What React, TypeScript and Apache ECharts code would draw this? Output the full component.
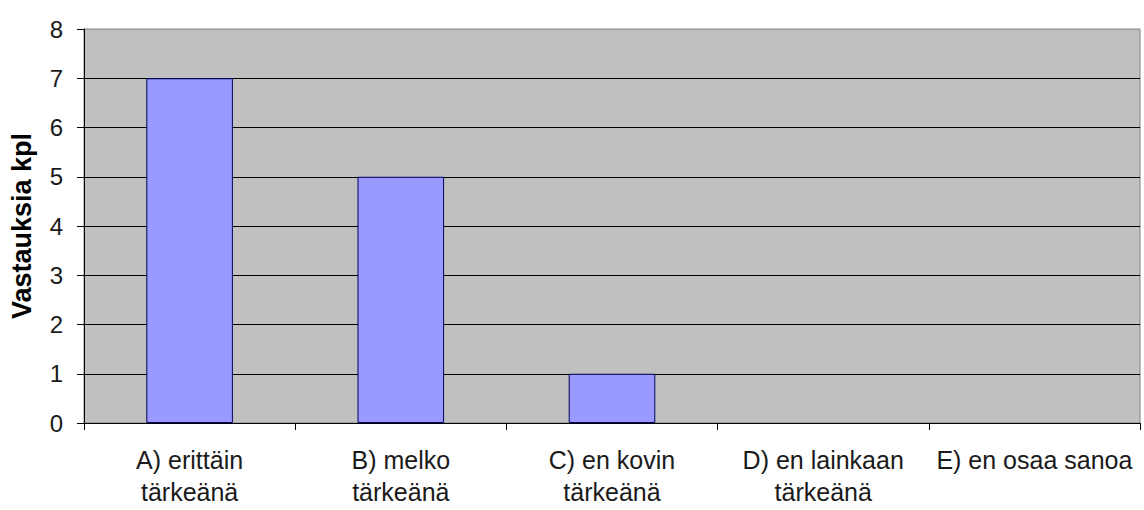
import React, { useEffect, useRef } from "react";
import * as echarts from "echarts";

const categories = [
  "A) erittäin\ntärkeänä",
  "B) melko\ntärkeänä",
  "C) en kovin\ntärkeänä",
  "D) en lainkaan\ntärkeänä",
  "E) en osaa sanoa",
];
const values = [7, 5, 1, 0, 0];
const yTicks = { min: 0, max: 8, interval: 1 };
const yAxisTitle = "Vastauksia kpl";

export default function App() {
  const ref = useRef<HTMLDivElement>(null);
  useEffect(() => {
    if (!ref.current) return;
    const chart = echarts.init(ref.current, undefined, { renderer: "svg" });
    const font = "Arial, 'Liberation Sans', sans-serif";
    chart.setOption({
      animation: false,
      backgroundColor: "#ffffff",
      grid: {
        left: 83,
        right: 4,
        top: 29,
        bottom: 87,
        show: true,
        backgroundColor: "#C0C0C0",
        borderColor: "#808080",
        borderWidth: 1,
      },
      xAxis: {
        type: "category",
        data: categories,
        boundaryGap: true,
        axisLine: { show: true, lineStyle: { color: "#000", width: 1 } },
        axisTick: { show: true, length: 7, alignWithLabel: false, interval: 0, lineStyle: { color: "#000" } },
        axisLabel: {
          interval: 0,
          margin: 21,
          color: "#1a1a1a",
          fontFamily: font,
          fontSize: 25,
          lineHeight: 32,
        },
        splitLine: { show: false },
      },
      yAxis: {
        type: "value",
        min: yTicks.min,
        max: yTicks.max,
        interval: yTicks.interval,
        name: yAxisTitle,
        nameLocation: "middle",
        nameGap: 49,
        nameTextStyle: { fontFamily: font, fontSize: 27, fontWeight: "bold", color: "#000" },
        axisLine: { show: true, lineStyle: { color: "#000", width: 1 } },
        axisTick: { show: true, length: 7, lineStyle: { color: "#000" } },
        axisLabel: { margin: 21, color: "#1a1a1a", fontFamily: font, fontSize: 24 },
        splitLine: { show: true, showMinLine: false, showMaxLine: false, lineStyle: { color: "#000", width: 1 } },
      },
      series: [
        {
          type: "bar",
          data: values.map((v) => ({
            value: v,
            itemStyle: { borderWidth: v === 0 ? 0 : 1 },
          })),
          barWidth: "41%",
          itemStyle: { color: "#9999FF", borderColor: "#000060", borderWidth: 1 },
        },
      ],
    });
    return () => chart.dispose();
  }, []);
  return (
    <div
      ref={ref}
      style={{ position: "absolute", left: 0, top: 0, width: 1144, height: 510, background: "#fff" }}
    />
  );
}
